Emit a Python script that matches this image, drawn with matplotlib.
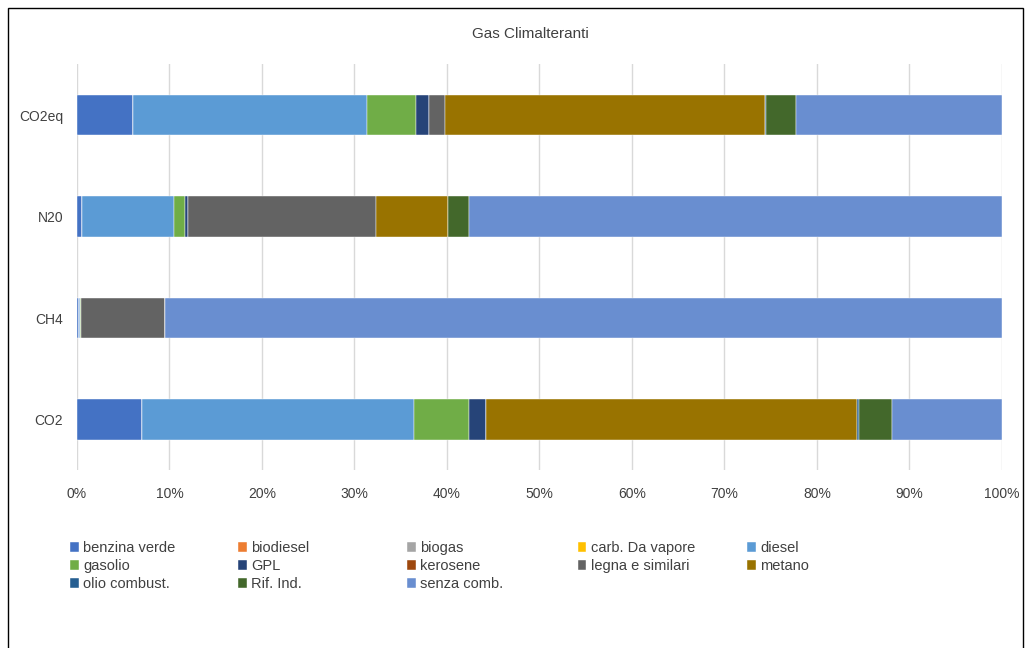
import numpy as np
import matplotlib
matplotlib.use('Agg')
import matplotlib.pyplot as plt
from matplotlib.patches import Rectangle
from matplotlib.ticker import PercentFormatter

plt.rcParams['font.family'] = ['Liberation Sans', 'DejaVu Sans']

# gases, bottom to top
gas = ['CO2', 'CH4', 'N20', 'CO2eq']

fuels = ['benzina verde', 'biodiesel', 'biogas', 'carb. Da vapore', 'diesel',
         'gasolio', 'GPL', 'kerosene', 'legna e similari', 'metano',
         'olio combust.', 'Rif. Ind.', 'senza comb.']

# percentage share of each fuel, order of gas list
benzina_verde = [7.0, 0.2, 0.5, 6.05]
biodiesel = [0, 0, 0, 0]
biogas = [0, 0, 0, 0]
carb_vapore = [0, 0, 0, 0]
diesel = [29.4, 0.1, 10.0, 25.35]
gasolio = [6.0, 0.1, 1.2, 5.2]
gpl = [1.8, 0.0, 0.3, 1.45]
kerosene = [0, 0, 0, 0]
legna = [0.0, 9.1, 20.3, 1.75]
metano = [40.15, 0.0, 7.8, 34.6]
olio_combust = [0.2, 0.0, 0.0, 0.1]
rif_ind = [3.55, 0.0, 2.3, 3.2]
senza_comb = [11.9, 90.5, 57.6, 22.3]

series = [benzina_verde, biodiesel, biogas, carb_vapore, diesel, gasolio, gpl,
          kerosene, legna, metano, olio_combust, rif_ind, senza_comb]
colors = ['#4472C4', '#ED7D31', '#A5A5A5', '#FFC000', '#5B9BD5', '#70AD47',
          '#264478', '#9E480E', '#636363', '#997300', '#255E91', '#43682B',
          '#698ED0']

fig = plt.figure(figsize=(10.26, 6.48), dpi=100)
ax = fig.add_axes([0.075, 0.274, 0.9016, 0.6266])

y = np.arange(len(gas))
left = np.zeros(len(gas))
bars = []
for vals, col, name in zip(series, colors, fuels):
    vals = np.array(vals, dtype=float)
    b = ax.barh(y, vals, left=left, height=0.4, color=col, label=name,
                edgecolor='white', linewidth=0.3, zorder=3)
    bars.append(b)
    left = left + vals

ax.set_xlim(0, 100)
ax.set_ylim(-0.5, 3.5)
ax.set_xticks(np.arange(0, 101, 10))
ax.xaxis.set_major_formatter(PercentFormatter(decimals=0))
ax.set_yticks(y)
ax.set_yticklabels(gas)
ax.tick_params(axis='both', length=0, labelsize=10, colors='#404040')
ax.tick_params(axis='x', pad=12)
ax.tick_params(axis='y', pad=10)
ax.grid(axis='x', color='#D9D9D9', linewidth=1, zorder=0)
for s in ax.spines.values():
    s.set_visible(False)

fig.text(0.517, 0.948, 'Gas Climalteranti', ha='center', va='center',
         fontsize=11, color='#404040')

# legend, one column at a time (Excel-like equal columns)
col_x = [0.068, 0.232, 0.397, 0.563, 0.728]
for c in range(5):
    idx = [c + 5 * r for r in range(3) if c + 5 * r < len(fuels)]
    leg = fig.legend([bars[i] for i in idx], [fuels[i] for i in idx],
                     loc='upper left', bbox_to_anchor=(col_x[c], 0.165),
                     frameon=False, fontsize=10.5, handlelength=0.6,
                     handleheight=0.6, handletextpad=0.3, labelspacing=0.28,
                     borderaxespad=0, borderpad=0)
    for t in leg.get_texts():
        t.set_color('#404040')

fig.patches.append(Rectangle((8 / 1026, -0.01), 1015 / 1026, 1 - 8 / 648 + 0.01,
                             transform=fig.transFigure, fill=False,
                             edgecolor='black', linewidth=1))

fig.savefig('out.png', dpi=100)
